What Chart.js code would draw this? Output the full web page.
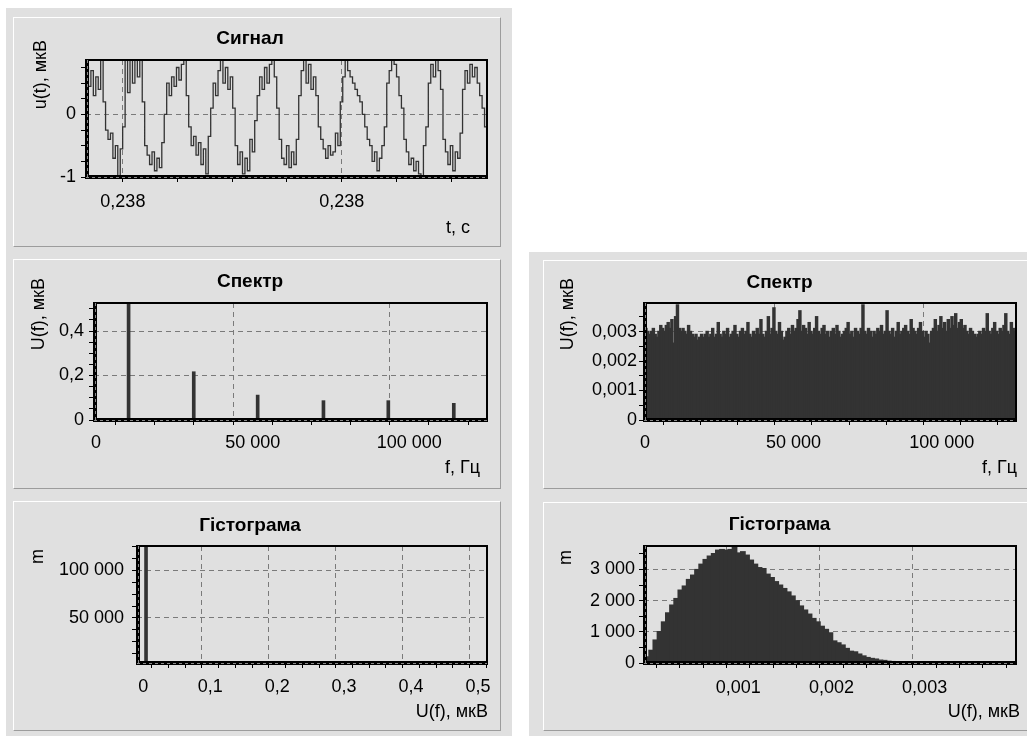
<!DOCTYPE html>
<html>
<head>
<meta charset="utf-8">
<script src="https://cdn.jsdelivr.net/npm/chart.js@4.4.1/dist/chart.umd.min.js"></script>
<style>
  body { margin: 0; width: 1027px; height: 736px; overflow: hidden; position: relative; background: #fff; }
  .col { position: absolute; background: #e0e0e0; }
  .panel { position: absolute; box-sizing: border-box; background: #e0e0e0;
           border-top: 1px solid #fff; border-left: 1px solid #fff;
           border-right: 1px solid #9c9c9c; border-bottom: 1px solid #9c9c9c; }
  canvas { position: absolute; }
</style>
</head>
<body>
<div class="col" style="left:6px;top:8px;width:506px;height:728px"></div>
<div class="col" style="left:529px;top:252px;width:498px;height:484px"></div>

<div class="panel" style="left:13px;top:17px;width:488px;height:230px"></div>
<div class="panel" style="left:13px;top:259px;width:488px;height:230px"></div>
<div class="panel" style="left:13px;top:501px;width:488px;height:230px"></div>
<div class="panel" style="left:543px;top:260px;width:490px;height:229px"></div>
<div class="panel" style="left:543px;top:502px;width:490px;height:229px"></div>

<canvas id="c1" width="488" height="230" style="left:13px;top:17px"></canvas>
<canvas id="c2" width="488" height="230" style="left:13px;top:259px"></canvas>
<canvas id="c3" width="488" height="230" style="left:13px;top:501px"></canvas>
<canvas id="c4" width="484" height="229" style="left:543px;top:260px"></canvas>
<canvas id="c5" width="484" height="229" style="left:543px;top:502px"></canvas>

<script>
// --- дані ---
// сигнал u(t), мкВ
const signalU = [
  0.75, 0.45, 0.7, 0.3, 0.6, 0.4, 0.95, 0.2, -0.25, -0.4,
  -0.3, -0.7, -0.5, -1.0, -0.55, -0.2, 0.95, 0.35, 0.95, 0.5,
  0.95, 0.6, 0.95, 0.2, -0.5, -0.65, -0.8, -0.6, -0.9, -0.7,
  -0.85, -0.45, 0.0, 0.5, 0.3, 0.6, 0.45, 0.75, 0.55, 0.8,
  0.95, 0.3, -0.2, -0.5, -0.35, -0.65, -0.45, -0.8, -0.55, -0.95,
  -0.35, 0.1, 0.5, 0.3, 0.7, 0.95, 0.5, 0.75, 0.4, 0.6,
  0.1, -0.5, -0.8, -0.6, -0.95, -0.7, -0.9, -0.4, -0.6, -0.1,
  0.3, 0.6, 0.4, 0.75, 0.5, 0.8, 0.95, 0.6, 0.1, -0.4,
  -0.7, -0.8, -0.5, -0.85, -0.6, -0.8, -0.4, 0.3, 0.7, 0.95,
  0.5, 0.8, 0.4, 0.6, 0.3, -0.2, -0.4, -0.55, -0.7, -0.5,
  -0.65, -0.6, -0.3, -0.5, 0.2, 0.6, 0.95, 0.7, 0.6, 0.5,
  0.4, 0.3, 0.2, 0.0, -0.2, -0.4, -0.5, -0.75, -0.6, -0.9,
  -0.7, -0.5, -0.2, 0.5, 0.7, 0.95, 0.8, 0.6, 0.3, 0.1,
  -0.4, -0.6, -0.8, -0.7, -0.9, -0.75, -0.95, -1.0, -0.5, -0.2,
  0.5, 0.8, 0.6, 0.95, 0.7, 0.4, -0.4, -0.6, -0.8, -0.5,
  -0.9, -0.6, -0.7, -0.3, 0.4, 0.7, 0.5, 0.8, 0.6, 0.75,
  0.5, 0.3, 0.1, -0.2, -0.5
];
const signalT0 = 0.2379326;     // початок вікна, с
const signalSpan = 0.000733;    // ширина вікна, с

// спектр сигналу
const spectrumFreq = [10400, 31200, 51600, 72600, 93300, 114200];
const spectrumAmp = [0.524, 0.217, 0.112, 0.087, 0.087, 0.075];

// гістограма спектра сигналу
const histLeftU = [0.004];
const histLeftCount = [130000];

// спектр шуму
const noiseBinHz = 625;
const noiseAmp = [
  0.0031, 0.0030, 0.0029, 0.0030, 0.0031, 0.0029, 0.0028, 0.0030, 0.0032, 0.0031,
  0.0030, 0.0032, 0.0033, 0.0031, 0.0034, 0.0026, 0.0035, 0.0039, 0.0031, 0.0030,
  0.0031, 0.0030, 0.0029, 0.0032, 0.0030, 0.0029, 0.0028, 0.0029, 0.0027, 0.0028,
  0.0029, 0.0028, 0.0029, 0.0030, 0.0028, 0.0029, 0.0031, 0.0028, 0.0029, 0.0033,
  0.0029, 0.0028, 0.0030, 0.0029, 0.0031, 0.0028, 0.0029, 0.0030, 0.0032, 0.0029,
  0.0028, 0.0030, 0.0031, 0.0029, 0.0030, 0.0033, 0.0029, 0.0028, 0.0030, 0.0029,
  0.0031, 0.0029, 0.0034, 0.0029, 0.0028, 0.0030, 0.0035, 0.0029, 0.0031, 0.0038,
  0.0030, 0.0029, 0.0033, 0.0030, 0.0027, 0.0028, 0.0030, 0.0031, 0.0029, 0.0032,
  0.0030, 0.0031, 0.0034, 0.0037, 0.0030, 0.0032, 0.0031, 0.0029, 0.0033, 0.0030,
  0.0029, 0.0031, 0.0035, 0.0030, 0.0029, 0.0031, 0.0032, 0.0029, 0.0030, 0.0028,
  0.0030, 0.0031, 0.0029, 0.0032, 0.0030, 0.0028, 0.0029, 0.0030, 0.0031, 0.0033,
  0.0029, 0.0030, 0.0028, 0.0031, 0.0030, 0.0029, 0.0031, 0.0039, 0.0030, 0.0029,
  0.0031, 0.0030, 0.0028, 0.0030, 0.0029, 0.0031, 0.0030, 0.0032, 0.0029, 0.0030,
  0.0037, 0.0030, 0.0029, 0.0031, 0.0028, 0.0030, 0.0033, 0.0029, 0.0030, 0.0031,
  0.0032, 0.0030, 0.0029, 0.0034, 0.0031, 0.0030, 0.0029, 0.0031, 0.0033, 0.0030,
  0.0028, 0.0030, 0.0029, 0.0026, 0.0030, 0.0031, 0.0034, 0.0030, 0.0032, 0.0035,
  0.0031, 0.0033, 0.0030, 0.0034, 0.0031, 0.0035, 0.0032, 0.0036, 0.0031, 0.0033,
  0.0034, 0.0031, 0.0032, 0.0030, 0.0029, 0.0031, 0.0030, 0.0029, 0.0028, 0.0029,
  0.0030, 0.0029, 0.0031, 0.0030, 0.0036, 0.0030, 0.0029, 0.0031, 0.0033, 0.0030,
  0.0029, 0.0031, 0.0030, 0.0032, 0.0036, 0.0030, 0.0029, 0.0033, 0.0031, 0.0030
];

// гістограма спектра шуму
const noiseHistBin = 0.0000447;
const noiseHistCount = [
  190, 400, 730, 1000, 1310, 1600, 1850, 2060, 2330, 2460,
  2670, 2810, 2990, 3160, 3310, 3420, 3500, 3610, 3630, 3610,
  3630, 3720, 3520, 3560, 3450, 3290, 3160, 3050, 3020, 2840,
  2730, 2600, 2490, 2380, 2270, 2140, 1990, 1820, 1690, 1560,
  1420, 1310, 1170, 1070, 960, 700, 640, 570, 460, 370,
  350, 280, 220, 170, 140, 120, 85, 75, 50, 40,
  30, 22, 16, 11, 8, 6, 4, 3, 2, 2,
  1, 1, 1, 0, 1, 0, 0, 0, 0, 0,
  0, 0, 0, 0, 0, 0, 0, 0, 1
];

// підписані поділки осей
const signalTimeTicks = [0.238, 0.2384];
const signalUTicks = [-1, 0];
const freqTicks = [0, 50000, 100000];
const spectrumAmpTicks = [0, 0.2, 0.4];
const histLeftUTicks = [0, 0.1, 0.2, 0.3, 0.4, 0.5];
const histLeftCountTicks = [50000, 100000];
const noiseAmpTicks = [0, 0.001, 0.002, 0.003];
const noiseHistUTicks = [0.001, 0.002, 0.003];
const noiseHistCountTicks = [0, 1000, 2000, 3000];

const FONT = '"Liberation Sans", Arial, sans-serif';
const DARK = '#333333';
Chart.defaults.font.family = FONT;
Chart.defaults.font.size = 18;
Chart.defaults.color = '#000';

// число у форматі 50 000 / 0,238
function fmt(v, dec) {
  let s = Math.abs(v).toFixed(dec);
  if (s.indexOf('.') >= 0) s = s.replace(/0+$/, '').replace(/\.$/, '');
  let [i, f] = s.split('.');
  i = i.replace(/\B(?=(\d{3})+(?!\d))/g, ' ');
  const out = f ? i + ',' + f : i;
  return (v < 0 && out !== '0') ? '-' + out : out;
}

function axis(min, max, step, majors, dec, pad) {
  const isMajor = v => majors.some(m => Math.abs(m - v) < step * 1e-3);
  return {
    type: 'linear', min: min, max: max, offset: false,
    afterBuildTicks: s => {
      const t = [];
      for (let k = Math.ceil(min / step - 1e-6); k * step <= max + step * 1e-6; k++) {
        t.push({ value: +(k * step).toFixed(10) });
      }
      s.ticks = t;
    },
    ticks: { autoSkip: false, maxRotation: 0, padding: pad, callback: v => isMajor(v) ? fmt(v, dec) : '' },
    grid: {
      color: c => (c.tick && isMajor(c.tick.value)) ? '#7a7a7a' : 'rgba(0,0,0,0)',
      tickColor: '#000', tickLength: 5, lineWidth: 1
    },
    border: { display: false, dash: [5, 4] }
  };
}

// рамка області побудови
const frame = {
  id: 'frame',
  afterDatasetsDraw(chart) {
    const { ctx, chartArea: a } = chart;
    ctx.save();
    ctx.strokeStyle = '#000';
    ctx.lineWidth = 2;
    ctx.strokeRect(a.left, a.top, a.right - a.left, a.bottom - a.top);
    ctx.fillStyle = '#000';
    ctx.fillRect(a.left - 1, a.bottom - 2, a.right - a.left + 2, 4);
    ctx.fillRect(a.left - 1, a.top - 1, 4, a.bottom - a.top + 2);
    ctx.strokeStyle = '#8a8a8a';
    ctx.lineWidth = 1;
    ctx.setLineDash([3, 3]);
    ctx.beginPath();
    ctx.moveTo(a.left, a.bottom + 0.5); ctx.lineTo(a.right, a.bottom + 0.5);
    ctx.moveTo(a.left + 1.5, a.top); ctx.lineTo(a.left + 1.5, a.bottom);
    ctx.stroke();
    ctx.restore();
  }
};

// підписи осей
const axisTitles = {
  id: 'axisTitles',
  afterDraw(chart, args, o) {
    const ctx = chart.ctx;
    ctx.save();
    ctx.font = '18px ' + FONT;
    ctx.fillStyle = '#000';
    ctx.textBaseline = 'middle';
    ctx.textAlign = 'right';
    ctx.fillText(o.x.text, o.x.right, o.x.y);
    ctx.translate(o.y.x, o.y.top);
    ctx.rotate(-Math.PI / 2);
    ctx.fillText(o.y.text, 0, 0);
    ctx.restore();
  }
};

function panel(id, p) {
  const c = document.getElementById(id);
  const [L, T, R, B] = p.area;
  new Chart(c, {
    type: p.type,
    data: { datasets: p.datasets },
    options: {
      responsive: false, animation: false, events: [],
      layout: { padding: { left: 0, top: 0, bottom: 0, right: c.width - R } },
      plugins: {
        legend: { display: false },
        tooltip: { enabled: false },
        title: {
          display: true, text: p.title, color: '#000',
          font: { size: 19, weight: 'bold' },
          padding: { top: p.titleY - 11.4, bottom: T - p.titleY - 11.4 }
        },
        axisTitles: { x: p.xTitle, y: p.yTitle }
      },
      scales: {
        x: Object.assign(p.x, { afterFit: s => { s.height = c.height - B; } }),
        y: Object.assign(p.y, { afterFit: s => { s.width = L; } })
      }
    },
    plugins: [frame, axisTitles]
  });
}

// Сигнал
const signalStep = signalSpan / (signalU.length - 1);
panel('c1', {
  type: 'line', title: 'Сигнал', titleY: 22, area: [73, 43, 474, 160],
  datasets: [{
    data: signalU.map((u, i) => ({ x: signalT0 + i * signalStep, y: u })),
    borderColor: DARK, borderWidth: 1.3, pointRadius: 0, stepped: true, clip: 0
  }],
  x: axis(signalT0, signalT0 + signalSpan, 0.0001, signalTimeTicks, 3, 9),
  y: axis(-1, 0.87, 0.25, signalUTicks, 0, 5),
  xTitle: { text: 't, c', right: 457, y: 211 },
  yTitle: { text: 'u(t), мкВ', x: 28, top: 23 }
});

// Спектр сигналу
panel('c2', {
  type: 'bar', title: 'Спектр', titleY: 23, area: [81, 44, 474, 161],
  datasets: [{
    data: spectrumFreq.map((f, i) => ({ x: f, y: spectrumAmp[i] })),
    backgroundColor: DARK, barThickness: 3, clip: 0
  }],
  x: axis(-640, 124800, 12500, freqTicks, 0, 7),
  y: axis(0, 0.526, 0.05, spectrumAmpTicks, 1, 5),
  xTitle: { text: 'f, Гц', right: 467, y: 209 },
  yTitle: { text: 'U(f), мкВ', x: 26, top: 19 }
});

// Гістограма сигналу
panel('c3', {
  type: 'bar', title: 'Гістограма', titleY: 25, area: [124, 45, 474, 162],
  datasets: [{
    data: histLeftU.map((u, i) => ({ x: u, y: histLeftCount[i] })),
    backgroundColor: DARK, barThickness: 3, clip: 0
  }],
  x: axis(-0.0095, 0.5135, 0.025, histLeftUTicks, 1, 8),
  y: axis(2800, 125500, 12500, histLeftCountTicks, 0, 8),
  xTitle: { text: 'U(f), мкВ', right: 475, y: 211 },
  yTitle: { text: 'm', x: 25, top: 48 }
});

// Спектр шуму
panel('c4', {
  type: 'bar', title: 'Спектр', titleY: 23, area: [101, 43, 473, 160],
  datasets: [{
    data: noiseAmp.map((a, i) => ({ x: (i + 0.5) * noiseBinHz, y: a })),
    backgroundColor: DARK, barPercentage: 1, categoryPercentage: 1,
    borderWidth: 0, inflateAmount: 0.8, clip: 0
  }],
  x: axis(-340, 125000, 12500, freqTicks, 0, 7),
  y: axis(0, 0.00397, 0.0005, noiseAmpTicks, 3, 2),
  xTitle: { text: 'f, Гц', right: 474, y: 208 },
  yTitle: { text: 'U(f), мкВ', x: 25, top: 18 }
});

// Гістограма шуму
panel('c5', {
  type: 'bar', title: 'Гістограма', titleY: 23, area: [101, 44, 473, 161],
  datasets: [{
    data: noiseHistCount.map((n, i) => ({ x: (i + 0.5) * noiseHistBin, y: n })),
    backgroundColor: DARK, barPercentage: 1, categoryPercentage: 1,
    borderWidth: 0, inflateAmount: 0.8, clip: 0
  }],
  x: axis(-0.00001, 0.00398, 0.00025, noiseHistUTicks, 3, 9),
  y: axis(0, 3750, 500, noiseHistCountTicks, 0, 4),
  xTitle: { text: 'U(f), мкВ', right: 477, y: 210 },
  yTitle: { text: 'm', x: 23, top: 48 }
});
</script>
</body>
</html>
